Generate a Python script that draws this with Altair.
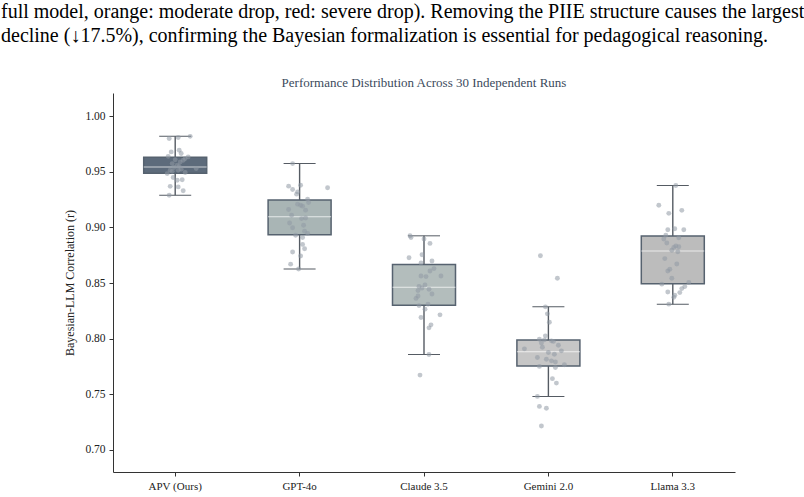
import altair as alt
import pandas as pd

# ---------------- data ----------------
models = ["APV (Ours)", "GPT-4o", "Claude 3.5", "Gemini 2.0", "Llama 3.3"]
box_colors = ["#5d6b7b", "#a9b5b5", "#b3bdbc", "#c6c6c6", "#bcbcbc"]

apv_r = [0.980, 0.981, 0.982, 0.968, 0.9695, 0.9665, 0.9635, 0.962, 0.9605, 0.959,
         0.956, 0.953, 0.9515, 0.9515, 0.945, 0.9425, 0.943, 0.937, 0.9365, 0.933,
         0.929, 0.9485, 0.9495, 0.9505, 0.9525, 0.954, 0.955, 0.9575, 0.961, 0.964]
apv_j = [-6, 3, 15, -4, 4, 6, 13, 10, 8, 5,
         2, 21, -5, 3, -2, 2, 7, -5, 3, 8,
         -6, -8, 10, -3, 6, -1, 4, -3, 0, -7]

gpt_r = [0.9575, 0.9372, 0.9342, 0.938, 0.932, 0.930, 0.9357, 0.9255, 0.920, 0.9192,
         0.9156, 0.9162, 0.911, 0.908, 0.904, 0.8998, 0.902, 0.8967, 0.8947, 0.891,
         0.8848, 0.8808, 0.878, 0.8743, 0.867, 0.8627, 0.893, 0.9085, 0.921, 0.9225]
gpt_j = [-7, -11, -7, 1, -2, -3, 28, 8, 1, 3,
         6, -11, -8, 2, -10, -7, 4, 5, 8, 3,
         3, 5, -7, 1, -9, -1, -4, 6, -2, 9]

claude_r = [0.7672, 0.7857, 0.8097, 0.8124, 0.819, 0.8214, 0.8265, 0.8297, 0.831, 0.8362,
            0.8383, 0.8401, 0.8432, 0.8444, 0.8455, 0.847, 0.8483, 0.8558, 0.8564, 0.8564,
            0.8609, 0.863, 0.868, 0.8698, 0.8728, 0.8755, 0.8857, 0.8896, 0.891, 0.8925]
claude_j = [-4, 5, 5, 7, -3, 16, 1, -5, 4, -8,
            -6, 8, -6, 5, -2, -5, 1, 2, -3, 17,
            6, 10, -3, 8, -15, -2, 6, 0, -13, -14]

gemini_r = [0.7214, 0.7373, 0.739, 0.748, 0.760, 0.764, 0.774, 0.775, 0.7765, 0.779,
            0.780, 0.7815, 0.783, 0.786, 0.7875, 0.789, 0.7908, 0.7923, 0.794, 0.796,
            0.7975, 0.798, 0.7989, 0.7995, 0.8025, 0.8148, 0.8223, 0.8286, 0.8543, 0.8746]
gemini_j = [-7, -2, -9, -11, 8, 4, 7, -9, 16, 7,
            3, -2, -11, 6, 0, 13, -24, -6, 10, -7,
            5, 3, -4, -9, -3, 1, -1, -3, 9, -8]

llama_r = [0.831, 0.8372, 0.839, 0.8414, 0.842, 0.845, 0.8468, 0.849, 0.8505, 0.8543,
           0.8609, 0.8624, 0.8672, 0.872, 0.8782, 0.8795, 0.8821, 0.8827, 0.8833, 0.886,
           0.8896, 0.8908, 0.893, 0.898, 0.898, 0.8989, 0.9127, 0.9154, 0.920, 0.9378]
llama_j = [-4, 1, 2, 7, -5, 9, 12, -11, 16, -1,
           -5, -3, 4, -8, 5, -1, 1, 6, 3, -6,
           -9, 6, -7, -5, 11, 2, -4, 9, -14, 3]

caption_lines = [
    "full model, orange: moderate drop, red: severe drop). Removing the PIIE structure causes the largest",
    "decline (\u219317.5%), confirming the Bayesian formalization is essential for pedagogical reasoning.",
]
chart_title = "Performance Distribution Across 30 Independent Runs"
y_title = "Bayesian-LLM Correlation (r)"
y_ticks = [0.70, 0.75, 0.80, 0.85, 0.90, 0.95, 1.00]

# ---------------- table ----------------
rows = []
for m, rs, js in zip(models,
                     [apv_r, gpt_r, claude_r, gemini_r, llama_r],
                     [apv_j, gpt_j, claude_j, gemini_j, llama_j]):
    for r, j in zip(rs, js):
        rows.append({"model": m, "r": r, "jit": j})
df = pd.DataFrame(rows)

W, H = 622, 379
SERIF = "Liberation Serif"

x_enc = alt.X("model:N", sort=models,
              scale=alt.Scale(domain=models, paddingInner=0, paddingOuter=0),
              axis=alt.Axis(title=None, labelAngle=0, labelFont=SERIF, labelFontSize=11,
                            labelColor="#222", tickColor="#333", tickSize=4,
                            domainColor="#333", domainWidth=1, labelPadding=4))
y_enc = alt.Y("r:Q", scale=alt.Scale(domain=[0.68, 1.021], nice=False, zero=False),
              axis=alt.Axis(title=y_title, values=y_ticks, format=".2f", grid=False,
                            labelFont=SERIF, labelFontSize=11.5, labelColor="#222",
                            titleFont=SERIF, titleFontSize=12, titleFontWeight="normal",
                            titleColor="#222", tickColor="#333", tickSize=4,
                            domainColor="#333", domainWidth=1, titlePadding=8,
                            labelPadding=4))

boxes = alt.Chart(df).mark_boxplot(
    size=63, extent=1.5, outliers=False,
    box={"stroke": "#56626f", "strokeWidth": 1.5},
    median={"color": "white", "strokeWidth": 2},
    rule={"color": "#555b63", "strokeWidth": 1.4},
    ticks={"color": "#555b63", "size": 32, "strokeWidth": 1.4},
).encode(
    x=x_enc,
    y=y_enc,
    color=alt.Color("model:N", scale=alt.Scale(domain=models, range=box_colors), legend=None),
)

points = alt.Chart(df).mark_circle(size=24, color="#8f99a4", opacity=0.55).encode(
    x=alt.X("model:N", sort=models),
    xOffset=alt.XOffset("jit:Q", scale=alt.Scale(domain=[-62.25, 62.25])),
    y=alt.Y("r:Q"),
)

title_df = pd.DataFrame({"t": [chart_title]})
title_layer = alt.Chart(title_df).mark_text(
    font=SERIF, fontSize=13, color="#3b4a5c", align="center", baseline="middle"
).encode(text="t:N", x=alt.value(W / 2), y=alt.value(-10))

cap_df = pd.DataFrame({"t": ["\n".join(caption_lines)]})
caption_layer = alt.Chart(cap_df).mark_text(
    font=SERIF, fontSize=20, color="#000", align="left", baseline="top",
    lineBreak="\n", lineHeight=24
).encode(text="t:N", x=alt.value(-112), y=alt.value(-91))

chart = alt.layer(boxes, points, title_layer, caption_layer).properties(
    width=W, height=H,
    autosize=alt.AutoSizeParams(type="none"),
    padding={"left": 113, "top": 93, "right": 69, "bottom": 25},
    background="white",
).configure_view(stroke=None).configure_axisY(domain=True).configure_axisX(domain=True)

chart.save("out.html", embed_options={"renderer": "svg", "actions": False})
